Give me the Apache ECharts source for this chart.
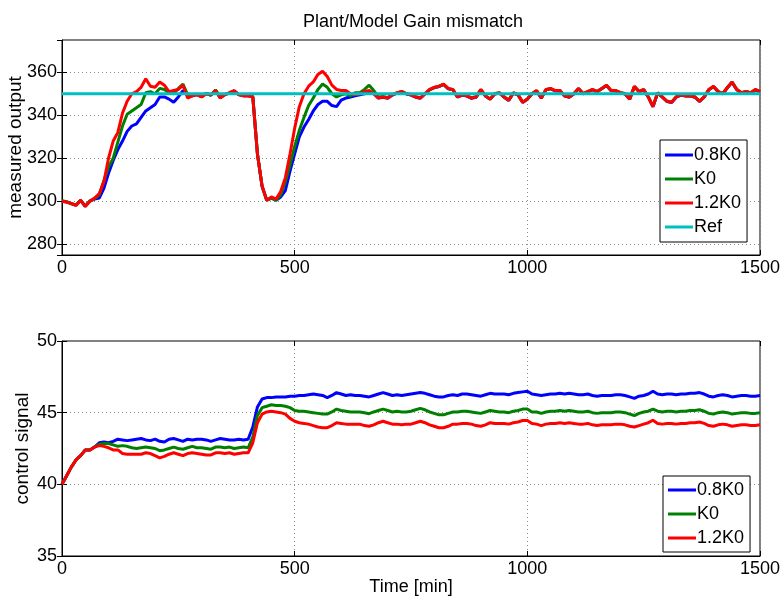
<!DOCTYPE html>
<html>
<head>
<meta charset="utf-8">
<script src="https://cdn.jsdelivr.net/npm/echarts@6/dist/echarts.min.js"></script>
<style>html,body{margin:0;padding:0;background:#fff}#c{width:781px;height:600px}</style>
</head>
<body>
<div id="c"></div>
<script>
// time samples [min]
const time = [0,10,20,30,40,50,60,70,80,90,100,110,120,130,140,150,160,170,180,190,200,210,220,230,240,250,260,270,280,290,300,310,320,330,340,350,360,370,380,390,400,410,420,430,440,450,460,470,480,490,500,510,520,530,540,550,560,570,580,590,600,610,620,630,640,650,660,670,680,690,700,710,720,730,740,750,760,770,780,790,800,810,820,830,840,850,860,870,880,890,900,910,920,930,940,950,960,970,980,990,1000,1010,1020,1030,1040,1050,1060,1070,1080,1090,1100,1110,1120,1130,1140,1150,1160,1170,1180,1190,1200,1210,1220,1230,1240,1250,1260,1270,1280,1290,1300,1310,1320,1330,1340,1350,1360,1370,1380,1390,1400,1410,1420,1430,1440,1450,1460,1470,1480,1490,1500];

// measured output
const out08 = [300.1,299.7,298.9,298.2,300.4,297.7,300.1,301.0,301.5,306,313,319,324,328,332.5,335,336,339,342,343.5,345,348.5,348.5,347.5,346,348.5,351.5,350,349,349.6,348.6,350.1,349.4,351.6,348.1,349.6,350.4,351.3,349.6,349.1,349.1,348.7,322,307,300.5,301.5,300.5,302,305,314,322,330,334.5,338,342,345,346.5,346.5,344.5,344,347,348,348.5,349,349.5,350,350.5,350,348,348.4,347.9,349.4,350.3,350.9,349.9,349.4,348.4,347.9,349.9,351.8,352.8,353.3,354.3,352.3,351.8,348.4,349.4,348.9,347.9,348.4,351.8,348.9,347.4,349.9,350.3,348.4,346.9,350.3,349.4,345.9,347.4,349.9,351.3,347.9,351.8,352.3,351.3,351.4,348.9,348.4,349.9,352.3,349.9,350.9,351.8,350.9,352.3,353.8,351.4,351.3,350.4,349.9,347.4,353.3,350.9,351.8,348.4,343.9,350.3,348.4,346.4,345.9,348.4,349.4,348.9,348.9,348.4,346.4,348.4,351.8,353.3,350.9,349.9,352.8,355.3,351.9,350.4,350.9,350.4,351.8,350.9];
const outK0 = [300.2,299.8,298.8,298.3,300.3,297.8,300.2,301.2,303,309.5,316,320,327.5,335,340.5,342,343.5,345,350.5,351,350,352.5,352,350.5,350,352.5,354.5,349.5,349,349.8,348.8,350.2,349.3,351.8,348.2,349.7,350.3,351.2,349.7,349.2,349.2,348.7,322,307,300.5,301.5,300.5,303,309,317,325.5,333,339,344.5,348,352,354.5,353,350,348.5,349.5,350,349,350.5,350.5,352,354,351.5,348.5,348.7,348.2,349.6,350.4,351.1,350.1,349.6,348.6,348.1,350.1,351.9,352.9,353.4,354.4,352.4,351.9,348.6,349.6,349.1,348.1,348.6,351.9,349.1,347.6,350.1,350.4,348.6,347.1,350.4,349.6,346.1,347.6,350.1,351.4,348.1,351.9,352.4,351.4,351.5,349.1,348.6,350.1,352.4,350.1,351.1,351.9,351.1,352.4,353.9,351.5,351.4,350.5,350.1,347.6,353.4,351.1,351.9,348.6,344.1,350.4,348.6,346.6,346.1,348.6,349.6,349.1,349.1,348.6,346.6,348.6,351.9,353.4,351.1,350.1,352.9,355.4,352.1,350.5,351.1,350.5,351.9,351.1];
const out12 = [300,299.5,299,298,300.5,297.5,300,301.5,303.5,309,320,328,332,341,346.5,350,351,353,357,353.5,353,355.5,354,351,351.5,352,354,348,349,349.5,348.5,350,349.5,351.5,348,349.5,350.5,351.5,349.5,349,349,348.5,322,307,300.5,302,301,304.5,311,322,334,344,350,353.5,355.5,359,360.5,358,354,352,351.5,351.5,350,349.5,350,351,351.5,350,348,348.5,348,349.5,350.5,351,350,349.5,348.5,348,350,352,353,353.5,354.5,352.5,352,348.5,349.5,349,348,348.5,352,349,347.5,350,350.5,348.5,347,350.5,349.5,346,347.5,350,351.5,348,352,352.5,351.5,351.5,349,348.5,350,352.5,350,351,352,351,352.5,354,351.5,351.5,350.5,350,347.5,353.5,351,352,348.5,344,350.5,348.5,346.5,346,348.5,349.5,349,349,348.5,346.5,348.5,352,353.5,351,350,353,355.5,352,350.5,351,350.5,352,351];
const refValue = 350;

// control signal
const ctl08 = [40.0,40.6,41.2,41.7,42.0,42.4,42.4,42.6,42.9,42.95,42.9,43.0,43.15,43.1,43.05,43.1,43.15,43.2,43.1,43.05,43.15,43.0,42.95,43.15,43.2,43.1,43.0,43.15,43.1,43.15,43.15,43.1,43.0,43.1,43.2,43.15,43.1,43.1,43.15,43.1,43.15,44.0,45.4,45.95,46.05,46.05,46.1,46.1,46.1,46.15,46.15,46.2,46.2,46.25,46.3,46.25,46.2,46.05,46.2,46.4,46.3,46.2,46.25,46.2,46.2,46.15,46.1,46.2,46.3,46.4,46.3,46.2,46.25,46.2,46.25,46.3,46.35,46.4,46.35,46.25,46.15,46.1,46.1,46.2,46.25,46.2,46.3,46.3,46.25,46.2,46.15,46.25,46.35,46.3,46.3,46.3,46.25,46.35,46.4,46.45,46.5,46.3,46.25,46.2,46.25,46.3,46.3,46.35,46.3,46.35,46.3,46.25,46.25,46.3,46.2,46.15,46.2,46.2,46.2,46.25,46.25,46.2,46.1,46.0,46.15,46.2,46.3,46.5,46.3,46.25,46.3,46.3,46.25,46.3,46.3,46.35,46.35,46.4,46.3,46.15,46.1,46.2,46.25,46.2,46.1,46.15,46.2,46.2,46.15,46.15,46.2];
const ctlK0 = [40.0,40.6,41.2,41.7,42.0,42.4,42.4,42.6,42.8,42.85,42.85,42.75,42.65,42.7,42.65,42.55,42.5,42.55,42.6,42.55,42.5,42.35,42.4,42.5,42.6,42.5,42.45,42.55,42.65,42.55,42.55,42.5,42.45,42.6,42.6,42.55,42.6,42.5,42.55,42.6,42.55,43.3,44.8,45.35,45.45,45.55,45.5,45.5,45.45,45.35,45.15,45.1,45.1,45.05,45.0,44.95,44.9,44.9,45.05,45.25,45.15,45.1,45.05,45.05,45.05,45.0,44.93,45.05,45.15,45.25,45.15,45.05,45.1,45.05,45.05,45.1,45.2,45.3,45.2,45.05,44.95,44.85,44.85,44.95,45.05,45.05,45.1,45.1,45.05,45.0,44.95,45.05,45.15,45.1,45.05,45.05,45.0,45.1,45.15,45.25,45.25,45.05,45.05,44.95,45.05,45.1,45.1,45.15,45.1,45.15,45.1,45.05,45.05,45.1,45.0,44.95,45.0,45.0,45.0,45.05,45.05,45.0,44.9,44.8,44.95,45.05,45.1,45.25,45.1,45.05,45.1,45.1,45.05,45.1,45.1,45.15,45.15,45.2,45.1,44.95,44.9,45.0,45.05,45.0,44.9,44.95,45.0,45.0,44.95,44.95,45.0];
const ctl12 = [40.0,40.6,41.2,41.7,42.0,42.4,42.4,42.6,42.7,42.65,42.55,42.4,42.4,42.15,42.1,42.1,42.1,42.1,42.2,42.15,42.0,41.85,41.95,42.1,42.2,42.1,42.0,42.15,42.2,42.15,42.1,42.05,42.05,42.2,42.2,42.15,42.2,42.1,42.15,42.2,42.2,42.9,44.3,44.9,45.05,45.1,45.05,45.0,44.9,44.6,44.4,44.3,44.25,44.2,44.1,44.0,43.95,43.95,44.1,44.3,44.25,44.2,44.2,44.2,44.2,44.1,44.05,44.15,44.3,44.4,44.3,44.2,44.2,44.15,44.2,44.2,44.3,44.4,44.3,44.15,44.05,43.95,43.95,44.05,44.2,44.2,44.25,44.25,44.2,44.1,44.05,44.15,44.3,44.25,44.25,44.25,44.2,44.3,44.35,44.45,44.45,44.25,44.2,44.1,44.2,44.25,44.25,44.3,44.25,44.3,44.25,44.2,44.2,44.25,44.15,44.1,44.15,44.15,44.15,44.2,44.2,44.15,44.05,44.0,44.1,44.2,44.3,44.47,44.25,44.2,44.25,44.25,44.2,44.25,44.25,44.3,44.3,44.35,44.25,44.1,44.05,44.15,44.2,44.15,44.05,44.1,44.15,44.15,44.1,44.1,44.15];

const names = ['0.8K0', 'K0', '1.2K0', 'Ref'];
const colors = ['#0000ff', '#008000', '#ff0000', '#00bfbf'];

const FONT = 'Liberation Sans, Arial, Helvetica, sans-serif';
const FS = 18;
const FS_NAME = 19;
const pair = (vals) => time.map((t, i) => [t, vals[i]]);

const chart = echarts.init(document.getElementById('c'), null, {renderer: 'canvas'});

const gridLine = {show: true, lineStyle: {color: '#8c8c8c', type: [1, 3], width: 1}};
const tick = {show: true, inside: true, length: 5, lineStyle: {color: '#000'}};
const lbl = {color: '#000', fontSize: FS, fontFamily: FONT, formatter: (v) => String(v)};

function xMain(gi, extra) {
  return Object.assign({type: 'value', gridIndex: gi, min: 0, max: 1500, interval: 500,
    axisLine: {show: true, onZero: false, lineStyle: {color: '#000'}},
    axisTick: tick, splitLine: gridLine, axisLabel: Object.assign({margin: 4}, lbl)}, extra || {});
}
function xMirror(gi) {
  return {type: 'value', gridIndex: gi, position: 'top', min: 0, max: 1500, interval: 500,
    axisLine: {show: false}, axisTick: tick, splitLine: {show: false}, axisLabel: {show: false}};
}
const legendBase = {orient: 'vertical', icon: 'rect', itemWidth: 28, itemHeight: 3,
  itemGap: 4, backgroundColor: '#fff', borderColor: '#000', borderWidth: 1,
  textStyle: {fontSize: FS, color: '#000', fontFamily: FONT, lineHeight: 20, padding: [0, 0, 0, -4]}, selectedMode: false};

const option = {
  animation: false,
  backgroundColor: '#fff',
  title: {text: 'Plant/Model Gain mismatch', left: 408, top: 8, textAlign: 'center',
    textStyle: {fontSize: FS, fontWeight: 'normal', color: '#000', fontFamily: FONT}},
  grid: [
    {left: 62, top: 40, width: 698, height: 215, show: true, borderColor: '#000', borderWidth: 1, backgroundColor: '#fff', containLabel: false, outerBoundsMode: 'none'},
    {left: 62, top: 341, width: 698, height: 215, show: true, borderColor: '#000', borderWidth: 1, backgroundColor: '#fff', containLabel: false, outerBoundsMode: 'none'}
  ],
  legend: [
    Object.assign({left: 660, top: 140, padding: [5, 6, 5, 5], data: names.slice(0, 4)}, legendBase),
    Object.assign({left: 663, top: 476, padding: [4, 6, 4, 5], data: names.slice(0, 3)}, legendBase)
  ],
  xAxis: [
    xMain(0),
    xMain(1, {name: 'Time [min]', nameLocation: 'middle', nameGap: 22, nameMoveOverlap: false,
      nameTextStyle: {fontSize: FS, color: '#000', fontFamily: FONT}}),
    xMirror(0), xMirror(1)
  ],
  yAxis: [
    {type: 'value', gridIndex: 0, min: 275, max: 375, splitNumber: 5,
     name: 'measured output', nameLocation: 'middle', nameGap: 37, nameMoveOverlap: false,
     nameTextStyle: {fontSize: FS_NAME, color: '#000', fontFamily: FONT},
     axisLine: {show: true, onZero: false, lineStyle: {color: '#000'}}, axisTick: tick, splitLine: gridLine,
     axisLabel: Object.assign({margin: 5, showMinLabel: false, showMaxLabel: false}, lbl)},
    {type: 'value', gridIndex: 1, min: 35, max: 50, interval: 5,
     name: 'control signal', nameLocation: 'middle', nameGap: 30, nameMoveOverlap: false,
     nameTextStyle: {fontSize: FS_NAME, color: '#000', fontFamily: FONT},
     axisLine: {show: true, onZero: false, lineStyle: {color: '#000'}}, axisTick: tick, splitLine: gridLine,
     axisLabel: Object.assign({margin: 5}, lbl)},
    {type: 'value', gridIndex: 0, position: 'right', min: 275, max: 375, splitNumber: 5,
     axisLine: {show: false}, axisTick: tick, splitLine: {show: false}, axisLabel: {show: false}},
    {type: 'value', gridIndex: 1, position: 'right', min: 35, max: 50, interval: 5,
     axisLine: {show: false}, axisTick: tick, splitLine: {show: false}, axisLabel: {show: false}}
  ],
  series: [
    {name: names[0], type: 'line', xAxisIndex: 0, yAxisIndex: 0, data: pair(out08), showSymbol: false, symbol: 'none', lineStyle: {width: 3, color: colors[0]}, itemStyle: {color: colors[0]}},
    {name: names[1], type: 'line', xAxisIndex: 0, yAxisIndex: 0, data: pair(outK0), showSymbol: false, symbol: 'none', lineStyle: {width: 3, color: colors[1]}, itemStyle: {color: colors[1]}},
    {name: names[2], type: 'line', xAxisIndex: 0, yAxisIndex: 0, data: pair(out12), showSymbol: false, symbol: 'none', lineStyle: {width: 3, color: colors[2]}, itemStyle: {color: colors[2]}},
    {name: names[3], type: 'line', xAxisIndex: 0, yAxisIndex: 0, data: [[time[0], refValue], [time[time.length - 1], refValue]], showSymbol: false, symbol: 'none', lineStyle: {width: 3, color: colors[3]}, itemStyle: {color: colors[3]}},
    {name: names[0], type: 'line', xAxisIndex: 1, yAxisIndex: 1, data: pair(ctl08), showSymbol: false, symbol: 'none', lineStyle: {width: 3, color: colors[0]}, itemStyle: {color: colors[0]}},
    {name: names[1], type: 'line', xAxisIndex: 1, yAxisIndex: 1, data: pair(ctlK0), showSymbol: false, symbol: 'none', lineStyle: {width: 3, color: colors[1]}, itemStyle: {color: colors[1]}},
    {name: names[2], type: 'line', xAxisIndex: 1, yAxisIndex: 1, data: pair(ctl12), showSymbol: false, symbol: 'none', lineStyle: {width: 3, color: colors[2]}, itemStyle: {color: colors[2]}}
  ]
};
chart.setOption(option);
</script>
</body>
</html>
